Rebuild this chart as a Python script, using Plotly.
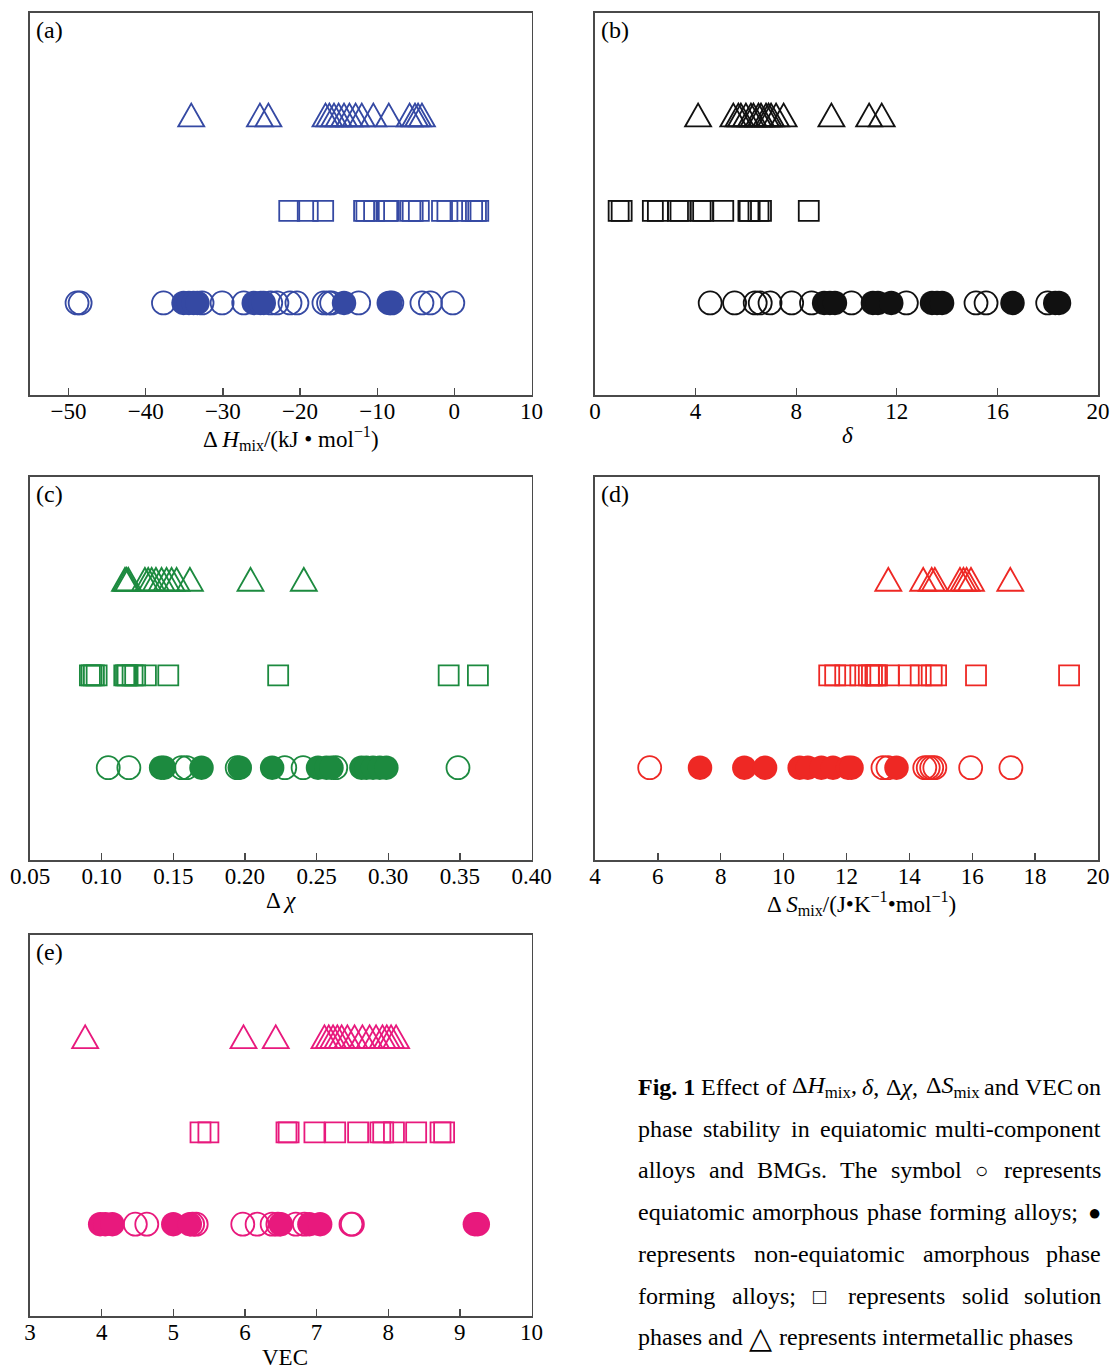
import plotly.graph_objects as go

W, H = 1112, 1371

# ---------------- data ----------------
# (a) ΔHmix / (kJ·mol^-1)
a_tri = [-34.1, -25.2, -24.1, -16.7, -16.2, -15.6, -15.0, -14.3, -13.6, -12.8, -12.0,
         -10.5, -8.5, -5.8, -5.1, -4.7, -4.2]
a_sq = [-21.4, -19.0, -17.0, -11.7, -11.4, -10.4, -8.7, -8.5, -5.7, -5.4, -4.6,
        -1.6, -0.9, 0.8, 2.3, 2.8, 3.1]
a_open = [-48.9, -48.5, -37.7, -32.7, -30.1, -27.3, -23.8, -23.0, -21.3, -20.4,
          -16.9, -16.3, -15.9, -12.4, -8.1, -4.2, -3.1, -0.2]
a_fill = [-35.1, -34.4, -33.8, -33.3, -26.0, -25.1, -24.7, -14.3, -8.5, -8.3]

# (b) δ
b_tri = [4.1, 5.5, 5.7, 5.8, 6.0, 6.2, 6.3, 6.5, 6.6, 6.8, 6.9, 7.0, 7.2, 7.5,
         9.4, 10.9, 11.4]
b_sq = [0.94, 1.06, 2.3, 2.5, 3.3, 3.4, 4.2, 4.3, 5.1, 6.1, 6.15, 6.5, 6.6, 8.5]
b_open = [4.58, 5.55, 6.37, 6.57, 6.96, 7.82, 8.61, 10.2, 12.38, 15.15, 15.55, 18.0]
b_fill = [9.11, 9.34, 9.54, 11.05, 11.25, 11.78, 13.4, 13.6, 13.8, 16.6, 18.3, 18.45]

# (c) Δχ
c_tri = [0.1163, 0.1174, 0.1186, 0.1302, 0.1325, 0.1349, 0.1379, 0.1418, 0.1453,
         0.1488, 0.1523, 0.1616, 0.2039, 0.2411]
c_sq = [0.0918, 0.0930, 0.0946, 0.0965, 0.1158, 0.1170, 0.1181, 0.1216, 0.1234,
        0.1309, 0.1465, 0.2232, 0.3422, 0.3626]
c_open = [0.1046, 0.1190, 0.1558, 0.1593, 0.1946, 0.2278, 0.2406, 0.2634, 0.3487]
c_fill = [0.1415, 0.1435, 0.1697, 0.1964, 0.2190, 0.2510, 0.2569, 0.2604,
          0.2813, 0.2848, 0.2894, 0.2941, 0.2987]

# (d) ΔSmix / (J·K^-1·mol^-1)
d_tri = [13.33, 14.44, 14.71, 14.81, 15.61, 15.72, 15.82, 15.96, 17.21]
d_sq = [11.45, 11.64, 11.96, 12.44, 12.71, 12.81, 12.92, 12.97, 13.35, 13.98,
        14.36, 14.71, 14.85, 16.12, 19.08]
d_open = [5.74, 13.16, 13.32, 14.49, 14.60, 14.71, 14.81, 15.95, 17.23]
d_fill = [7.34, 8.75, 9.41, 10.51, 10.77, 11.20, 11.57, 12.05, 12.16, 13.59]

# (e) VEC
e_tri = [3.77, 5.98, 6.43, 7.11, 7.17, 7.23, 7.29, 7.35, 7.43, 7.53, 7.64, 7.74,
         7.83, 7.92, 7.98, 8.04, 8.11]
e_sq = [5.38, 5.49, 6.58, 6.61, 6.97, 7.26, 7.58, 7.89, 7.93, 8.08, 8.39, 8.73, 8.78]
e_open = [4.47, 4.63, 5.27, 5.32, 5.97, 6.17, 6.38, 6.46, 6.71, 6.83, 7.48, 7.50]
e_fill = [3.98, 4.05, 4.15, 5.00, 5.23, 6.50, 6.90, 7.05, 9.21, 9.25]

# row levels
ROW_TRI, ROW_SQ, ROW_CIRC = 3, 2, 1

a_ticks = [-50, -40, -30, -20, -10, 0, 10]
b_ticks = [0, 4, 8, 12, 16, 20]
c_ticks = [0.05, 0.10, 0.15, 0.20, 0.25, 0.30, 0.35, 0.40]
d_ticks = [4, 6, 8, 10, 12, 14, 16, 18, 20]
e_ticks = [3, 4, 5, 6, 7, 8, 9, 10]

a_ticktext = ["\u221250", "\u221240", "\u221230", "\u221220", "\u221210", "0", "10"]
b_ticktext = [str(v) for v in b_ticks]
c_ticktext = ["%.2f" % v for v in c_ticks]
d_ticktext = [str(v) for v in d_ticks]
e_ticktext = [str(v) for v in e_ticks]

# ---------------- layout helpers (page pixels -> paper fraction) ----------------
OFF = 0  # page body margin is removed by the post script


def px_x(p):
    return (p - OFF) / W


def px_y(p):
    return 1 - (p - OFF) / H


LEFT = [px_x(30), px_x(531.5)]
RIGHT = [px_x(595), px_x(1098)]
ROW1 = [px_y(395), px_y(13)]
ROW2 = [px_y(860), px_y(477)]
ROW3 = [px_y(1316), px_y(935)]

FRAME = "#4a4a4a"
SERIF = "Liberation Serif, Times New Roman, serif"

# equilateral open-triangle symbol outline (pixels, relative to the data point)
TRI_PATH = "M-13,-7.6L13,-7.6L0,15.2Z"

panels = [
    dict(lab="(a)", color="#3549a3", tri=a_tri, sq=a_sq, op=a_open, fi=a_fill,
         rng=[-55, 10], tv=a_ticks, tt=a_ticktext, xd=LEFT, yd=ROW1, left=30, top=13),
    dict(lab="(b)", color="#111111", tri=b_tri, sq=b_sq, op=b_open, fi=b_fill,
         rng=[0, 20], tv=b_ticks, tt=b_ticktext, xd=RIGHT, yd=ROW1, left=595, top=13),
    dict(lab="(c)", color="#1c8a3f", tri=c_tri, sq=c_sq, op=c_open, fi=c_fill,
         rng=[0.05, 0.40], tv=c_ticks, tt=c_ticktext, xd=LEFT, yd=ROW2, left=30, top=477),
    dict(lab="(d)", color="#ee2824", tri=d_tri, sq=d_sq, op=d_open, fi=d_fill,
         rng=[4, 20], tv=d_ticks, tt=d_ticktext, xd=RIGHT, yd=ROW2, left=595, top=477),
    dict(lab="(e)", color="#e8197d", tri=e_tri, sq=e_sq, op=e_open, fi=e_fill,
         rng=[3, 10], tv=e_ticks, tt=e_ticktext, xd=LEFT, yd=ROW3, left=30, top=935),
]

fig = go.Figure()
layout = dict(width=W, height=H, margin=dict(l=0, r=0, t=0, b=0, autoexpand=False),
              paper_bgcolor="white", plot_bgcolor="white", showlegend=False,
              template="none", hovermode=False)
annotations = []
shapes = []

for i, p in enumerate(panels):
    n = "" if i == 0 else str(i + 1)
    xa, ya = "x" + n, "y" + n
    col = p["color"]
    lw = 1.8
    # triangles: open triangle outlines anchored at each data value
    for v in p["tri"]:
        shapes.append(dict(type="path", xref=xa, yref=ya, xsizemode="pixel",
                           ysizemode="pixel", xanchor=v, yanchor=ROW_TRI,
                           path=TRI_PATH, line=dict(color=col, width=lw),
                           fillcolor="rgba(0,0,0,0)", layer="above"))
    fig.add_trace(go.Scatter(x=p["sq"], y=[ROW_SQ] * len(p["sq"]), mode="markers",
                             xaxis=xa, yaxis=ya,
                             marker=dict(symbol="square-open", size=20, color=col,
                                         line=dict(width=lw, color=col))))
    fig.add_trace(go.Scatter(x=p["op"], y=[ROW_CIRC] * len(p["op"]), mode="markers",
                             xaxis=xa, yaxis=ya,
                             marker=dict(symbol="circle-open", size=23, color=col,
                                         line=dict(width=lw, color=col))))
    fig.add_trace(go.Scatter(x=p["fi"], y=[ROW_CIRC] * len(p["fi"]), mode="markers",
                             xaxis=xa, yaxis=ya,
                             marker=dict(symbol="circle", size=24.5, color=col,
                                         line=dict(width=0))))
    layout["xaxis" + n] = dict(domain=p["xd"], anchor=ya, range=p["rng"],
                               tickvals=p["tv"], ticktext=p["tt"], tickmode="array",
                               ticks="inside", ticklen=7, tickwidth=1.3, tickcolor=FRAME,
                               showline=True, linecolor=FRAME, linewidth=1.6, mirror=True,
                               showgrid=False, zeroline=False, automargin=False,
                               ticklabelstandoff=-5, fixedrange=True,
                               tickfont=dict(family=SERIF, size=23, color="black"))
    layout["yaxis" + n] = dict(domain=p["yd"], anchor=xa, range=[0, 4.15],
                               showticklabels=False, ticks="", fixedrange=True,
                               showline=True, linecolor=FRAME, linewidth=1.6, mirror=True,
                               showgrid=False, zeroline=False, automargin=False)
    # panel label
    annotations.append(dict(text=p["lab"], xref="paper", yref="paper",
                            x=px_x(p["left"] + 4), y=px_y(p["top"] + 17),
                            xanchor="left", yanchor="middle", showarrow=False,
                            font=dict(family=SERIF, size=24, color="black")))

# axis titles
titles = [
    ("\u0394 <i>H</i><sub>mix</sub>/(kJ \u2022 mol<sup>\u22121</sup>)", 291, 438),
    ("<i>\u03b4</i>", 847, 436),
    ("\u0394 <i>\u03c7</i>", 281, 900),
    ("\u0394 <i>S</i><sub>mix</sub>/(J\u2022K<sup>\u22121</sup>\u2022mol<sup>\u22121</sup>)", 861, 903),
    ("VEC", 285, 1357),
]
for t, x, y in titles:
    annotations.append(dict(text=t, xref="paper", yref="paper", x=px_x(x), y=px_y(y),
                            xanchor="center", yanchor="middle", showarrow=False,
                            font=dict(family=SERIF, size=23, color="black")))

# ---------------- caption: justified text laid out word by word ----------------
FS = 24
CAP_L, CAP_R = 637, 1102
REG = {' ': 250, 'a': 444, 'b': 500, 'c': 444, 'd': 500, 'e': 444, 'f': 333, 'g': 500,
       'h': 500, 'i': 278, 'j': 278, 'k': 500, 'l': 278, 'm': 778, 'n': 500, 'o': 500,
       'p': 500, 'q': 500, 'r': 333, 's': 389, 't': 278, 'u': 500, 'v': 500, 'w': 722,
       'x': 500, 'y': 500, 'z': 444, 'B': 667, 'C': 667, 'E': 611, 'F': 556, 'G': 722,
       'H': 722, 'M': 889, 'S': 556, 'T': 611, 'V': 722, '.': 250, ',': 250, ';': 278,
       '-': 333, '1': 500}
BOLD = {'F': 611, 'i': 278, 'g': 500, '.': 250, ' ': 250, '1': 500}


def em(s, table=REG):
    return sum(table.get(c, 500) for c in s) / 1000.0


def word(s):
    return (s, em(s) * FS, FS)


SUBMIX = 0.7 * em("mix")
line1 = [("<b>Fig. 1</b>", em("Fig. 1", BOLD) * FS, FS), word("Effect"), word("of"),
         ("\u0394<i>H</i><sub>mix</sub>,", (0.61 + 0.722 + SUBMIX + 0.25) * FS, FS),
         ("<i>\u03b4</i>,", (0.5 + 0.25) * FS, FS),
         ("\u0394<i>\u03c7</i>,", (0.61 + 0.55 + 0.25) * FS, FS),
         ("\u0394<i>S</i><sub>mix</sub>", (0.61 + 0.5 + SUBMIX) * FS, FS),
         word("and"), word("VEC"), word("on")]
SYM_FS = 22
line2 = [word(w) for w in "phase stability in equiatomic multi-component".split()]
line3 = [word(w) for w in "alloys and BMGs. The symbol".split()] + \
        [("\u25cb", 0.8 * SYM_FS, SYM_FS), word("represents")]
line4 = [word(w) for w in "equiatomic amorphous phase forming alloys;".split()] + \
        [("\u25cf", 0.8 * SYM_FS, SYM_FS)]
line5 = [word(w) for w in "represents non-equiatomic amorphous phase".split()]
line6 = [word("forming"), word("alloys;"), ("\u25a1", 0.8 * SYM_FS, SYM_FS)] + \
        [word(w) for w in "represents solid solution".split()]
TRI_FS = 30
line7 = [word("phases"), word("and"), ("\u25b3", 0.8 * TRI_FS, TRI_FS)] + \
        [word(w) for w in "represents intermetallic phases".split()]

caption_lines = [(1087, line1, True), (1129, line2, True), (1170, line3, True),
                 (1212, line4, True), (1254, line5, True), (1296, line6, True),
                 (1337, line7, False)]

for y, words, justify in caption_lines:
    total = sum(w[1] for w in words)
    gap = (CAP_R - CAP_L - total) / (len(words) - 1) if justify else 0.25 * FS
    x = CAP_L
    for k, (txt, wpx, fs) in enumerate(words):
        last = justify and k == len(words) - 1
        annotations.append(dict(text=txt, xref="paper", yref="paper",
                                x=px_x(CAP_R if last else x), y=px_y(y),
                                xanchor="right" if last else "left", yanchor="middle",
                                showarrow=False, borderpad=0,
                                font=dict(family=SERIF, size=fs, color="black")))
        x += wpx + gap

layout["annotations"] = annotations
layout["shapes"] = shapes
fig.update_layout(**layout)
fig.write_html("out.html",
               config={"displayModeBar": False, "staticPlot": True},
               post_script="document.body.style.margin='0px';"
                           "document.body.style.overflow='hidden';")
